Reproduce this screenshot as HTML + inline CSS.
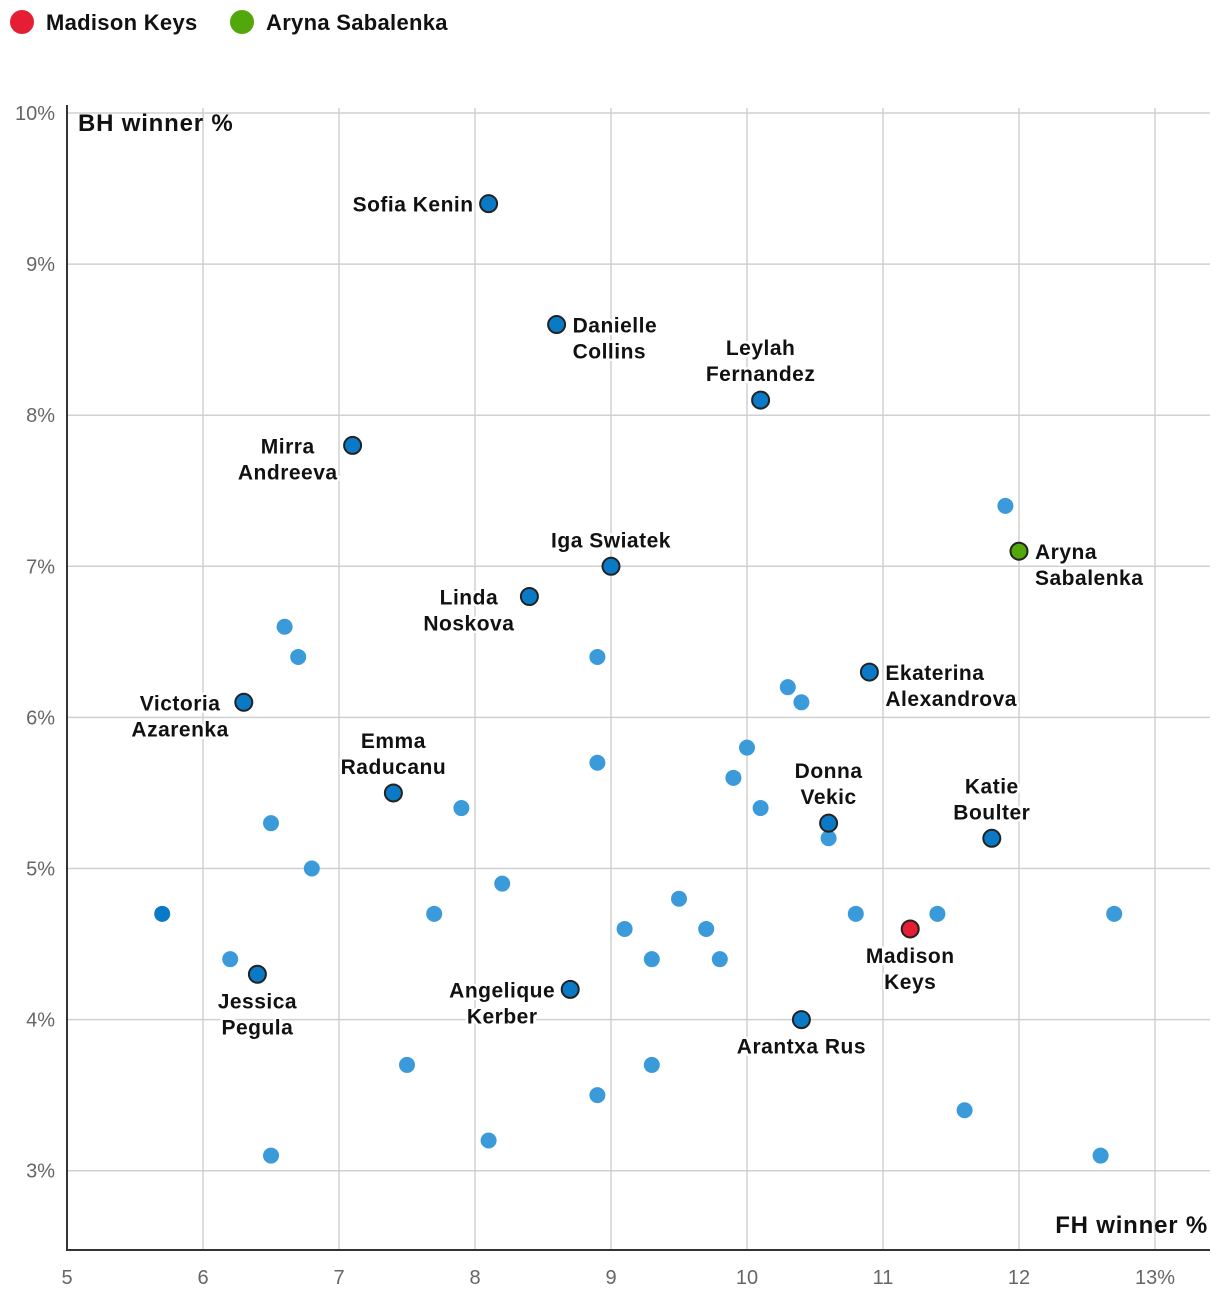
<!DOCTYPE html>
<html><head><meta charset="utf-8"><style>
body{margin:0;background:#fff;}
svg text{font-family:"Liberation Sans",sans-serif;}
.lbl{font-size:21px;letter-spacing:0.5px;font-weight:bold;fill:#111;paint-order:stroke;stroke:#fff;stroke-width:5px;stroke-linejoin:round;}
.tick{font-size:20px;fill:#666;}
</style></head><body>
<svg id="chart" width="1220" height="1298" xmlns="http://www.w3.org/2000/svg">
<g>
<circle cx="22" cy="22" r="12" fill="#e41f35"/>
<text x="46" y="30" font-size="22" letter-spacing="0.3" font-weight="bold" fill="#111">Madison Keys</text>
<circle cx="242" cy="22" r="12" fill="#52a70a"/>
<text x="266" y="30" font-size="22" letter-spacing="0.3" font-weight="bold" fill="#111">Aryna Sabalenka</text>
</g>
<g id="grid"></g>
<g id="pts"></g>
<g id="labels"></g>
<text x="78" y="131" font-size="24" letter-spacing="0.8" font-weight="bold" fill="#111">BH winner %</text>
<text x="1208" y="1233" font-size="24" letter-spacing="0.8" font-weight="bold" fill="#111" text-anchor="end">FH winner %</text>
</svg>
<script>
const xTicks=[5,6,7,8,9,10,11,12,13];
const yTicks=[3,4,5,6,7,8,9,10];
const bgX=[11.9,6.6,6.7,8.9,10.3,10.4,10.0,8.9,9.9,7.9,10.1,6.5,10.6,6.8,8.2,9.5,5.7,7.7,10.8,11.4,12.7,9.1,9.7,6.2,9.3,9.8,7.5,9.3,8.9,11.6,8.1,6.5,12.6];
const bgY=[7.4,6.6,6.4,6.4,6.2,6.1,5.8,5.7,5.6,5.4,5.4,5.3,5.2,5.0,4.9,4.8,4.7,4.7,4.7,4.7,4.7,4.6,4.6,4.4,4.4,4.4,3.7,3.7,3.5,3.4,3.2,3.1,3.1];
const names=["Sofia Kenin","Danielle|Collins","Leylah|Fernandez","Mirra|Andreeva","Iga Swiatek","Linda|Noskova","Aryna|Sabalenka","Ekaterina|Alexandrova","Victoria|Azarenka","Emma|Raducanu","Donna|Vekic","Katie|Boulter","Madison|Keys","Jessica|Pegula","Angelique|Kerber","Arantxa Rus"];
const fhX=[8.1,8.6,10.1,7.1,9.0,8.4,12.0,10.9,6.3,7.4,10.6,11.8,11.2,6.4,8.7,10.4];
const bhY=[9.4,8.6,8.1,7.8,7.0,6.8,7.1,6.3,6.1,5.5,5.3,5.2,4.6,4.3,4.2,4.0];
const pos=["left","right","above","left","above","left","right","right","left","above","above","above","below","below","left","below"];
const NS="http://www.w3.org/2000/svg";
const X=v=>67+(v-5)*136, Y=v=>113+(10-v)*151.1;
function mk(t,a,parent){const e=document.createElementNS(NS,t);for(const k in a)e.setAttribute(k,a[k]);parent.appendChild(e);return e;}
const g=document.getElementById('grid');
xTicks.forEach(t=>{
 if(t>5){const l=mk('line',{x1:X(t),x2:X(t),y1:108,y2:1250,stroke:'#d0d0d0','stroke-width':1.5},g);
 
 }
 const tx=mk('text',{x:X(t),y:1284,'text-anchor':'middle',class:'tick'},g);tx.textContent=t===13?'13%':t;
 
 
});
yTicks.forEach(t=>{
 const l=mk('line',{x1:67,x2:1210,y1:Y(t),y2:Y(t),stroke:'#d0d0d0','stroke-width':1.5},g);
 
 
 const tx=mk('text',{x:55,y:Y(t)+7,'text-anchor':'end',class:'tick'},g);tx.textContent=t+'%';
 
 
});
const ax=mk('path',{d:'M67,105V1250H1210',fill:'none',stroke:'#333','stroke-width':2},g);


const p=document.getElementById('pts');
bgX.forEach((x,i)=>{const c=mk('circle',{cx:X(x),cy:Y(bgY[i]),r:8,fill:(x===5.7?'#0b7ac6':'#3b9ad9')},p);
 
 });
const L=document.getElementById('labels');
names.forEach((n,i)=>{
 const cx=X(fhX[i]),cy=Y(bhY[i]);
 let fill='#0b7ac6';if(n.startsWith('Madison'))fill='#e41f35';if(n.startsWith('Aryna'))fill='#52a70a';
 const c=mk('circle',{cx:cx,cy:cy,r:8.5,fill:fill,stroke:'#222','stroke-width':2},p);
 
 
 const lines=n.split('|');
 const els=[];
 lines.forEach((s,j)=>{
  let x=cx,y,anc='middle';
  if(pos[i]==='left'){x=cx-15;anc='end';y=cy+8+j*26;}
  else if(pos[i]==='right'){x=cx+16;anc='start';y=cy+8+j*26;}
  else if(pos[i]==='above'){y=cy-19-(lines.length-1-j)*26;}
  else {y=cy+34+j*26;}
  const t=mk('text',{x:x,y:y,'text-anchor':anc,class:'lbl'},L);t.textContent=s;
  
  
  els.push(t);
 });
 if(pos[i]==='left'&&els.length>1){
  const w=Math.max(...els.map(e=>e.getComputedTextLength()));
  els.forEach(e=>{e.setAttribute('text-anchor','middle');e.setAttribute('x',cx-15-w/2);});
 }
});
</script>
</body></html>
